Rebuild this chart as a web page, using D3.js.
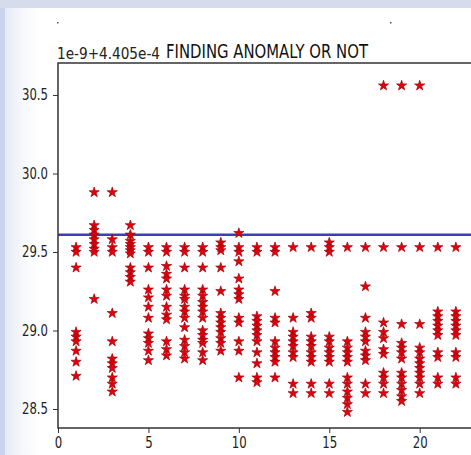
<!DOCTYPE html>
<html>
<head>
<meta charset="utf-8">
<script src="https://cdn.jsdelivr.net/npm/d3@7"></script>
<style>
  body { margin: 0; background: #fff; }
  svg { display: block; }
</style>
</head>
<body>
<div id="chart"></div>
<script>
// Données
const titleText = "FINDING ANOMALY OR NOT";
const offsetText = "1e-9+4.405e-4";
const xTicks = [0, 5, 10, 15, 20];
const yTicks = [28.5, 29.0, 29.5, 30.0, 30.5];
const thresholdValue = 29.61;

// one list of y values per x position (1..22)
const col1 = [29.53, 29.50, 29.40, 28.99, 28.96, 28.93, 28.87, 28.80, 28.71];
const col2 = [29.88, 29.67, 29.64, 29.61, 29.58, 29.55, 29.52, 29.50, 29.20];
const col3 = [29.88, 29.58, 29.53, 29.50, 29.11, 28.93, 28.82, 28.79, 28.76, 28.70, 28.66, 28.61];
const col4 = [29.67, 29.61, 29.57, 29.55, 29.53, 29.51, 29.49, 29.40, 29.37, 29.34, 29.31];
const col5 = [29.53, 29.50, 29.40, 29.26, 29.21, 29.15, 29.08, 28.98, 28.95, 28.92, 28.87, 28.81];
const col6 = [29.53, 29.50, 29.41, 29.36, 29.33, 29.26, 29.22, 29.15, 29.10, 29.07, 28.93, 28.88, 28.84];
const col7 = [29.53, 29.50, 29.40, 29.26, 29.22, 29.20, 29.15, 29.12, 29.08, 29.02, 28.94, 28.90, 28.86, 28.82];
const col8 = [29.53, 29.50, 29.40, 29.26, 29.22, 29.18, 29.15, 29.12, 29.08, 29.00, 28.97, 28.94, 28.92, 28.86, 28.81];
const col9 = [29.56, 29.53, 29.51, 29.40, 29.25, 29.11, 29.08, 29.05, 29.02, 28.99, 28.95, 28.92, 28.87];
const col10 = [29.62, 29.53, 29.50, 29.44, 29.33, 29.26, 29.23, 29.20, 29.08, 29.05, 28.93, 28.87, 28.70];
const col11 = [29.53, 29.50, 29.09, 29.06, 29.03, 29.00, 28.97, 28.93, 28.86, 28.79, 28.70, 28.67];
const col12 = [29.53, 29.50, 29.25, 29.08, 29.05, 28.93, 28.89, 28.86, 28.83, 28.80, 28.70];
const col13 = [29.53, 29.08, 28.99, 28.96, 28.93, 28.90, 28.86, 28.83, 28.66, 28.60];
const col14 = [29.53, 29.11, 29.08, 28.96, 28.93, 28.90, 28.86, 28.83, 28.80, 28.66, 28.60];
const col15 = [29.56, 29.53, 29.50, 28.96, 28.93, 28.89, 28.86, 28.83, 28.80, 28.66, 28.60];
const col16 = [29.53, 28.93, 28.89, 28.86, 28.83, 28.80, 28.70, 28.66, 28.61, 28.57, 28.53, 28.48];
const col17 = [29.53, 29.28, 29.08, 28.99, 28.96, 28.93, 28.87, 28.84, 28.81, 28.66, 28.60];
const col18 = [30.56, 29.53, 29.05, 28.99, 28.95, 28.88, 28.85, 28.73, 28.70, 28.66, 28.60];
const col19 = [30.56, 29.53, 29.04, 28.92, 28.89, 28.86, 28.82, 28.73, 28.70, 28.66, 28.62, 28.58, 28.55];
const col20 = [30.56, 29.53, 29.04, 28.89, 28.86, 28.82, 28.79, 28.76, 28.73, 28.70, 28.66, 28.60];
const col21 = [29.53, 29.12, 29.09, 29.06, 29.03, 29.00, 28.97, 28.86, 28.83, 28.70, 28.66];
const col22 = [29.53, 29.12, 29.09, 29.06, 29.03, 29.00, 28.97, 28.86, 28.83, 28.70, 28.66];

const columns = [col1, col2, col3, col4, col5, col6, col7, col8, col9, col10, col11,
  col12, col13, col14, col15, col16, col17, col18, col19, col20, col21, col22];

// points (x, y)
const points = [];
columns.forEach(function (col, i) {
  col.forEach(function (v) {
    points.push({ x: i + 1, y: v });
  });
});

const W = 471, H = 455;
const plot = { left: 58, top: 63, right: 483, bottom: 428 };

const svg = d3.select("#chart").append("svg")
  .attr("width", W)
  .attr("height", H);

// light watermark-like background around the figure
svg.append("rect").attr("width", W).attr("height", H).attr("fill", "#fff");
const grad = svg.append("defs").append("linearGradient").attr("id", "leftwash");
grad.append("stop").attr("offset", "0%").attr("stop-color", "#dce3f4");
grad.append("stop").attr("offset", "100%").attr("stop-color", "#ffffff").attr("stop-opacity", 0);
svg.append("rect").attr("x", 0).attr("y", 0).attr("width", 48).attr("height", H).attr("fill", "url(#leftwash)");
svg.append("rect").attr("x", 0).attr("y", 0).attr("width", 5).attr("height", H).attr("fill", "#c9d3ec");
svg.append("rect").attr("x", 0).attr("y", 0).attr("width", W).attr("height", 8).attr("fill", "#d6dcec");

// tiny marks at top
svg.append("rect").attr("x", 57).attr("y", 22).attr("width", 1.5).attr("height", 1.5).attr("fill", "#555");
svg.append("rect").attr("x", 390).attr("y", 22).attr("width", 1.5).attr("height", 1.5).attr("fill", "#555");

const x = d3.scaleLinear().domain([0, 23.5]).range([plot.left, plot.right]);
const y = d3.scaleLinear().domain([28.379, 30.704]).range([plot.bottom, plot.top]);

// threshold line
svg.append("line")
  .attr("x1", plot.left).attr("x2", W)
  .attr("y1", y(thresholdValue)).attr("y2", y(thresholdValue))
  .attr("stroke", "#3b3dbd")
  .attr("stroke-width", 2.5);

// stars
const star = d3.symbol().type(d3.symbolStar).size(32);
svg.append("g")
  .selectAll("path")
  .data(points)
  .enter()
  .append("path")
  .attr("d", star)
  .attr("transform", function (d) { return "translate(" + x(d.x) + "," + y(d.y) + ")"; })
  .attr("fill", "#e2000a")
  .attr("stroke", "#a3000a")
  .attr("stroke-width", 0.7);

// axes
const xAxis = svg.append("g")
  .attr("transform", "translate(0," + plot.bottom + ")")
  .call(d3.axisBottom(x).tickValues(xTicks).tickSize(5).tickPadding(4).tickFormat(d3.format("d")));
const yAxis = svg.append("g")
  .attr("transform", "translate(" + plot.left + ",0)")
  .call(d3.axisLeft(y).tickValues(yTicks).tickSize(5).tickPadding(5).tickFormat(d3.format(".1f")));

[xAxis, yAxis].forEach(function (g) {
  g.select(".domain").remove();
  g.selectAll("line").attr("stroke", "#333").attr("stroke-width", 1);
  g.selectAll("text")
    .attr("fill", "#222")
    .style("font-family", "DejaVu Sans")
    .style("font-size", "15px");
});
xAxis.selectAll("text").attr("dy", "0.71em").attr("textLength", function (d) { return String(d).length * 7.5; })
  .attr("lengthAdjust", "spacingAndGlyphs");
yAxis.selectAll("text").attr("textLength", 26).attr("lengthAdjust", "spacingAndGlyphs");

// frame (left, top, bottom spines)
svg.append("path")
  .attr("d", "M" + W + "," + plot.top + "H" + plot.left + "V" + plot.bottom + "H" + W)
  .attr("fill", "none")
  .attr("stroke", "#333")
  .attr("stroke-width", 1.5);

// offset text and title
svg.append("text")
  .attr("x", 57).attr("y", 59)
  .attr("textLength", 103).attr("lengthAdjust", "spacingAndGlyphs")
  .style("font-family", "DejaVu Sans").style("font-size", "16px")
  .attr("fill", "#222")
  .text(offsetText);
svg.append("text")
  .attr("x", 166).attr("y", 58)
  .attr("textLength", 202).attr("lengthAdjust", "spacingAndGlyphs")
  .style("font-family", "DejaVu Sans").style("font-size", "20px")
  .attr("fill", "#111")
  .text(titleText);
</script>
</body>
</html>
